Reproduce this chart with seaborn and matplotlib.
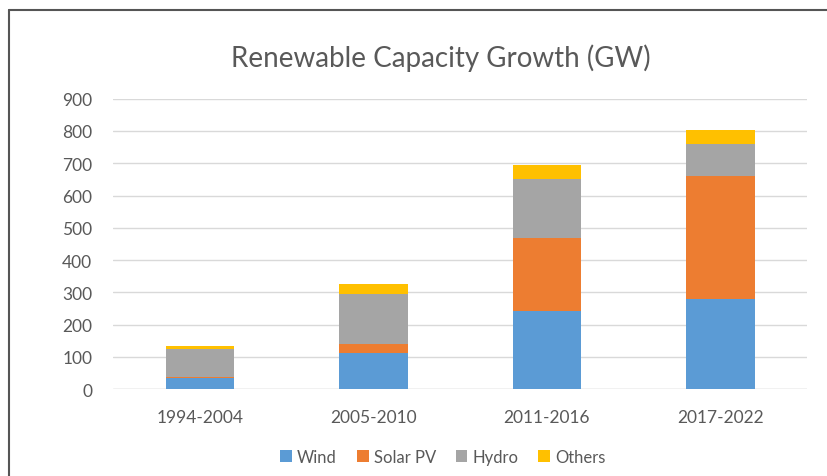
import pandas as pd
import seaborn as sns
import matplotlib.pyplot as plt
from matplotlib.lines import Line2D
from matplotlib.patches import Patch

periods = ['1994-2004', '2005-2010', '2011-2016', '2017-2022']
wind = [36, 111, 242, 280]
solar = [1, 28, 225, 380]
hydro = [87, 155, 185, 101]
others = [9, 31, 44, 43]

series = ['Wind', 'Solar PV', 'Hydro', 'Others']
colors = ['#5B9BD5', '#ED7D31', '#A5A5A5', '#FFC000']

df = pd.DataFrame({'period': periods, 'Wind': wind, 'Solar PV': solar,
                   'Hydro': hydro, 'Others': others})
# cumulative sums so that taller layers are drawn first
cum = df[series].cumsum(axis=1)
cum['period'] = df['period']

sns.set_style('white')
plt.rcParams['font.family'] = ['Lato', 'DejaVu Sans']
txt = '#595959'

fig = plt.figure(figsize=(8.28, 4.77), dpi=100)
ax = fig.add_axes([0.1365, 0.182, 0.8385, 0.609])

for name, col in reversed(list(zip(series, colors))):
    sns.barplot(data=cum, x='period', y=name, color=col, width=0.395,
                saturation=1, linewidth=0, edgecolor='none', ax=ax, zorder=3)

ax.set_xlim(-0.5, 3.5)
ax.set_ylim(0, 900)
ax.set_yticks(range(0, 901, 100))
ax.yaxis.grid(True, color='#D9D9D9', lw=1, zorder=0)
ax.set_axisbelow(True)
for s in ax.spines.values():
    s.set_visible(False)
ax.axhline(0, color='#D9D9D9', lw=1, zorder=1)
ax.tick_params(axis='both', length=0, colors=txt, labelsize=12.5)
ax.tick_params(axis='y', pad=15)
ax.tick_params(axis='x', pad=14)
ax.set_xlabel('')
ax.set_ylabel('')

fig.text(0.532, 0.878, 'Renewable Capacity Growth (GW)', ha='center', va='center',
         fontsize=20, color=txt)

handles = [Patch(facecolor=c, edgecolor='none') for c in colors]
fig.legend(handles, series, loc='center', bbox_to_anchor=(0.535, 0.04), ncol=4,
           frameon=False, fontsize=12, handlelength=0.7, handleheight=0.7,
           handletextpad=0.3, columnspacing=1.2, labelcolor=txt)

# outer frame (left and top only)
fig.add_artist(Line2D([0.0103, 0.0103], [0, 0.977], color='#555555', lw=1.5))
fig.add_artist(Line2D([0.0103, 1], [0.977, 0.977], color='#555555', lw=1.5))

fig.savefig('out.png', dpi=100)
